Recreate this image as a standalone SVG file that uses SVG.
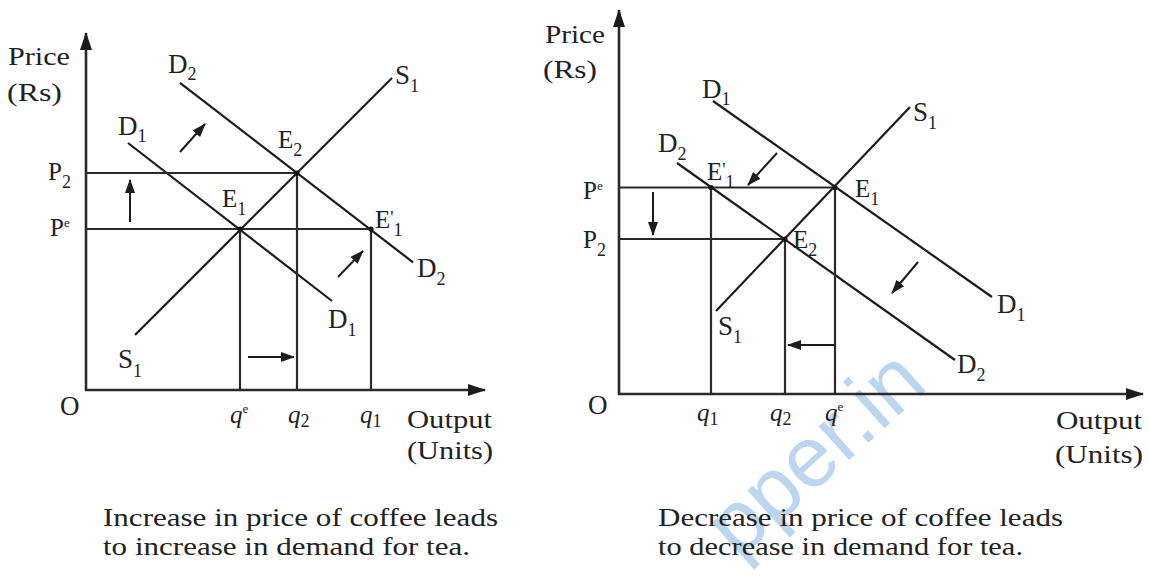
<svg xmlns="http://www.w3.org/2000/svg" width="1149" height="581" viewBox="0 0 1149 581">
<defs>
<marker id="ah" viewBox="0 0 14 10" refX="13" refY="5" markerWidth="14" markerHeight="10" markerUnits="userSpaceOnUse" orient="auto"><path d="M0,0 L14,5 L0,10 Z" fill="#1c1c1c"/></marker>
<marker id="ax" viewBox="0 0 18 12" refX="17" refY="6" markerWidth="18" markerHeight="12" markerUnits="userSpaceOnUse" orient="auto"><path d="M0,0 L18,6 L0,12 Z" fill="#1c1c1c"/></marker>
</defs>
<style>
.axis{stroke:#2a2a2a;stroke-width:2.6;fill:none}
.curve{stroke:#1c1c1c;stroke-width:2.2;fill:none}
.guide{stroke:#2a2a2a;stroke-width:2.2;fill:none}
.arr{stroke:#1c1c1c;stroke-width:2;fill:none}
.pt{fill:#111}
text{font-family:"Liberation Serif","Times New Roman",serif;fill:#222}
.lb{font-size:27px}
.el{font-size:25px}
.ax{font-size:25px}
.sub{font-size:18px}
.sup{font-size:13px}
.q{font-size:25px;font-style:italic}
.cap{font-size:26px}
.wm{font-family:"Liberation Sans",Arial,sans-serif;font-size:86px;fill:#bcd5f0}
</style>
<rect width="1149" height="581" fill="#fff"/>
<text class="wm" transform="translate(738,560) rotate(-42)">pper.in</text>

<g id="left-chart">
  <g id="left-axes">
    <line class="axis" x1="86" y1="391" x2="86" y2="33" marker-end="url(#ax)"/>
    <line class="axis" x1="85" y1="390" x2="485" y2="390" marker-end="url(#ax)"/>
  </g>
  <g id="left-connectors">
    <line class="curve" x1="180" y1="82.8" x2="413" y2="262.3"/>
    <line class="curve" x1="128" y1="143" x2="332" y2="301"/>
    <line class="curve" x1="135" y1="335" x2="392" y2="78"/>
    <line class="guide" x1="86" y1="173" x2="297" y2="173"/>
    <line class="guide" x1="86" y1="229" x2="371" y2="229"/>
    <line class="guide" x1="240" y1="229" x2="240" y2="390"/>
    <line class="guide" x1="297" y1="173" x2="297" y2="390"/>
    <line class="guide" x1="371" y1="229" x2="371" y2="390"/>
    <line class="arr" x1="130" y1="222" x2="130" y2="180" marker-end="url(#ah)"/>
    <line class="arr" x1="180" y1="152" x2="205" y2="124" marker-end="url(#ah)"/>
    <line class="arr" x1="338" y1="277" x2="363" y2="251" marker-end="url(#ah)"/>
    <line class="arr" x1="248" y1="357" x2="294" y2="357" marker-end="url(#ah)"/>
  </g>
  <g id="left-points">
    <circle class="pt" cx="240" cy="229" r="2.6"/>
    <circle class="pt" cx="297" cy="173" r="2.6"/>
    <circle class="pt" cx="371" cy="229" r="2.6"/>
  </g>
  <g id="left-labels">
    <text class="ax" x="8" y="65" textLength="62" lengthAdjust="spacingAndGlyphs">Price</text>
    <text class="ax" x="7" y="101" textLength="55" lengthAdjust="spacingAndGlyphs">(Rs)</text>
    <text class="lb" x="168" y="73">D<tspan class="sub" dy="7">2</tspan></text>
    <text class="lb" x="118" y="135">D<tspan class="sub" dy="7">1</tspan></text>
    <text class="lb" x="395" y="84">S<tspan class="sub" dy="8">1</tspan></text>
    <text class="el" x="278" y="148">E<tspan class="sub" dy="8">2</tspan></text>
    <text class="el" x="222" y="207">E<tspan class="sub" dy="8">1</tspan></text>
    <text class="el" x="375" y="228">E<tspan class="sub" dy="-4">'</tspan><tspan class="sub" dy="12">1</tspan></text>
    <text class="el" x="48" y="180">P<tspan class="sub" dy="8">2</tspan></text>
    <text class="el" x="50" y="236">P<tspan class="sup" dy="-9">e</tspan></text>
    <text class="lb" x="417" y="277">D<tspan class="sub" dy="8">2</tspan></text>
    <text class="lb" x="328" y="328">D<tspan class="sub" dy="8">1</tspan></text>
    <text class="lb" x="118" y="368">S<tspan class="sub" dy="9">1</tspan></text>
    <text class="lb" x="60" y="415">O</text>
    <text class="q" x="230" y="423">q<tspan class="sup" dy="-10" font-style="normal">e</tspan></text>
    <text class="q" x="288" y="423">q<tspan class="sub" dy="4" font-style="normal">2</tspan></text>
    <text class="q" x="360" y="423">q<tspan class="sub" dy="4" font-style="normal">1</tspan></text>
    <text class="ax" x="407" y="428" textLength="85" lengthAdjust="spacingAndGlyphs">Output</text>
    <text class="ax" x="407" y="459" textLength="86" lengthAdjust="spacingAndGlyphs">(Units)</text>
    <text class="cap" x="103" y="526" textLength="395" lengthAdjust="spacingAndGlyphs">Increase in price of coffee leads</text>
    <text class="cap" x="103" y="555" textLength="367" lengthAdjust="spacingAndGlyphs">to increase in demand for tea.</text>
  </g>
</g>

<g id="right-chart">
  <g id="right-axes">
    <line class="axis" x1="619" y1="395" x2="619" y2="10" marker-end="url(#ax)"/>
    <line class="axis" x1="618" y1="394" x2="1143" y2="394" marker-end="url(#ax)"/>
  </g>
  <g id="right-connectors">
    <line class="curve" x1="713" y1="101" x2="992" y2="297"/>
    <line class="curve" x1="677" y1="163" x2="955" y2="360"/>
    <line class="curve" x1="716" y1="311" x2="910" y2="107"/>
    <line class="guide" x1="619" y1="187.5" x2="835" y2="187.5"/>
    <line class="guide" x1="619" y1="239" x2="785" y2="239"/>
    <line class="guide" x1="711" y1="187.5" x2="711" y2="394"/>
    <line class="guide" x1="785" y1="239" x2="785" y2="394"/>
    <line class="guide" x1="835" y1="187.5" x2="835" y2="394"/>
    <line class="arr" x1="653" y1="192" x2="653" y2="235" marker-end="url(#ah)"/>
    <line class="arr" x1="777" y1="153" x2="748" y2="185" marker-end="url(#ah)"/>
    <line class="arr" x1="918" y1="262" x2="892" y2="293" marker-end="url(#ah)"/>
    <line class="arr" x1="834" y1="345" x2="788" y2="345" marker-end="url(#ah)"/>
  </g>
  <g id="right-points">
    <circle class="pt" cx="835" cy="187.5" r="2.6"/>
    <circle class="pt" cx="711" cy="187.5" r="2.6"/>
    <circle class="pt" cx="785" cy="239" r="2.6"/>
  </g>
  <g id="right-labels">
    <text class="ax" x="545" y="43" textLength="60" lengthAdjust="spacingAndGlyphs">Price</text>
    <text class="ax" x="543" y="78" textLength="54" lengthAdjust="spacingAndGlyphs">(Rs)</text>
    <text class="lb" x="702" y="98">D<tspan class="sub" dy="7">1</tspan></text>
    <text class="lb" x="658" y="152">D<tspan class="sub" dy="8">2</tspan></text>
    <text class="lb" x="913" y="121">S<tspan class="sub" dy="8">1</tspan></text>
    <text class="el" x="855" y="197">E<tspan class="sub" dy="8">1</tspan></text>
    <text class="el" x="707" y="180">E<tspan class="sub" dy="-4">'</tspan><tspan class="sub" dy="12">1</tspan></text>
    <text class="el" x="793" y="248">E<tspan class="sub" dy="8">2</tspan></text>
    <text class="el" x="583" y="199">P<tspan class="sup" dy="-9">e</tspan></text>
    <text class="el" x="583" y="248">P<tspan class="sub" dy="8">2</tspan></text>
    <text class="lb" x="718" y="335">S<tspan class="sub" dy="8">1</tspan></text>
    <text class="lb" x="997" y="313">D<tspan class="sub" dy="8">1</tspan></text>
    <text class="lb" x="957" y="373">D<tspan class="sub" dy="8">2</tspan></text>
    <text class="lb" x="588" y="414">O</text>
    <text class="q" x="697" y="421">q<tspan class="sub" dy="4" font-style="normal">1</tspan></text>
    <text class="q" x="770" y="421">q<tspan class="sub" dy="4" font-style="normal">2</tspan></text>
    <text class="q" x="825" y="421">q<tspan class="sup" dy="-10" font-style="normal">e</tspan></text>
    <text class="ax" x="1056" y="429" textLength="86" lengthAdjust="spacingAndGlyphs">Output</text>
    <text class="ax" x="1055" y="463" textLength="88" lengthAdjust="spacingAndGlyphs">(Units)</text>
    <text class="cap" x="658" y="526" textLength="405" lengthAdjust="spacingAndGlyphs">Decrease in price of coffee leads</text>
    <text class="cap" x="658" y="555" textLength="365" lengthAdjust="spacingAndGlyphs">to decrease in demand for tea.</text>
  </g>
</g>
</svg>
